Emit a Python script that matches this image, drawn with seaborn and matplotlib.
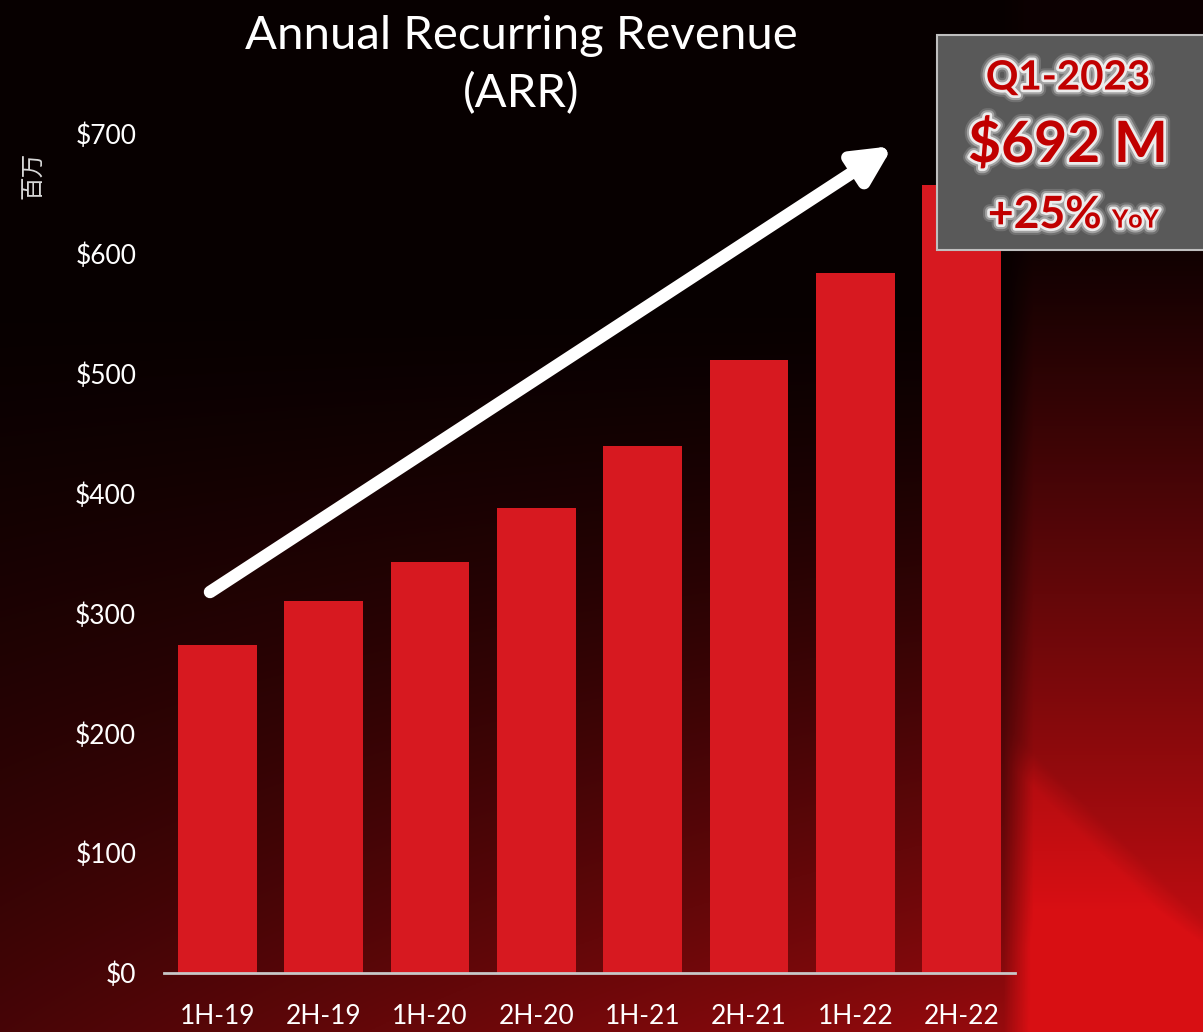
import matplotlib.pyplot as plt
import matplotlib.patheffects as pe
from matplotlib.patches import FancyArrowPatch, Rectangle
import numpy as np
import pandas as pd
import seaborn as sns

periods = ['1H-19', '2H-19', '1H-20', '2H-20', '1H-21', '2H-21', '1H-22', '2H-22']
arr = [274, 310, 343, 388, 440, 511, 584, 657]
y_ticks = [0, 100, 200, 300, 400, 500, 600, 700]
y_labels = ['$0', '$100', '$200', '$300', '$400', '$500', '$600', '$700']

df = pd.DataFrame({'period': periods, 'arr': arr})

sns.set_style('dark')
plt.rcParams['font.family'] = ['Lato', 'Noto Sans CJK SC', 'DejaVu Sans']

fig = plt.figure(figsize=(12.03, 10.32), dpi=100)

# background: black on top fading to dark red, red strip on the right
bg = fig.add_axes([0, 0, 1, 1], zorder=-10)
h, w = 400, 480
yy, xx = np.mgrid[0:1:h*1j, 0:1:w*1j]
base = 0.03 + 0.62 * np.clip((yy - 0.3) / 0.7, 0, 1) ** 1.3 * (0.4 + 0.6 * xx)
strip = 0.05 + 0.72 * np.clip((yy - 0.22) / 0.7, 0, 1) ** 1.1
diag = np.clip((yy - 0.70 - (xx - 0.833) * 1.15) * 30, 0, 1) * 0.12
shadow = np.clip((xx - 0.835) / 0.025, 0, 1)
r = np.where(xx > 0.835, base * (1 - shadow) + (strip + diag) * shadow, base)
r = np.clip(r, 0, 0.85)
img = np.dstack([r, r * 0.07, r * 0.09])
bg.imshow(img, extent=[0, 1, 0, 1], aspect='auto', origin='upper')
bg.axis('off')

ax = fig.add_axes([0.1363, 0.0572, 0.7074, 0.813])
ax.set_facecolor('none')
sns.barplot(data=df, x='period', y='arr', color='#D71920', saturation=1,
            width=0.74, linewidth=0, ax=ax)
ax.set_ylim(0, 700)
ax.set_xlim(-0.5, 7.5)
ax.set_yticks(y_ticks)
ax.set_yticklabels(y_labels)
ax.grid(False)
for s in ['top', 'right', 'left']:
    ax.spines[s].set_visible(False)
ax.spines['bottom'].set_color('#c8c8c8')
ax.spines['bottom'].set_linewidth(2)
ax.tick_params(axis='both', colors='white', labelsize=19, length=0)
ax.tick_params(axis='x', pad=22)
ax.tick_params(axis='y', pad=20)
ax.set_xlabel('')
ax.set_ylabel('')

fig.text(0.028, 0.83, '百万', rotation=90, color='#d9d9d9', fontsize=17,
         ha='center', va='center', family=['Noto Sans CJK SC', 'DejaVu Sans'])

fig.text(0.433, 0.937, 'Annual Recurring Revenue\n(ARR)', color='white',
         fontsize=34, ha='center', va='center', linespacing=1.42)

# trend arrow
fig.add_artist(FancyArrowPatch(
    (210 / 1203, 1 - 592 / 1032), (893 / 1203, 1 - 146 / 1032),
    transform=fig.transFigure, arrowstyle='-|>', mutation_scale=55,
    lw=9, color='white', shrinkA=0, shrinkB=0))

# summary box
fig.add_artist(Rectangle((937 / 1203, 1 - 250 / 1032), 270 / 1203, 215 / 1032,
                         transform=fig.transFigure, facecolor='#595959',
                         edgecolor='#bfbfbf', lw=1.5))
glow = [pe.withStroke(linewidth=10, foreground=(1, 1, 1, 0.15)),
        pe.withStroke(linewidth=7, foreground=(1, 1, 1, 0.35)),
        pe.withStroke(linewidth=4, foreground=(1, 1, 1, 0.8))]
cx = 1068 / 1203
fig.text(cx, 1 - 78 / 1032, 'Q1-2023', color='#C00000', fontsize=29,
         weight='bold', ha='center', va='center', path_effects=glow)
fig.text(cx, 1 - 145 / 1032, '$692 M', color='#C00000', fontsize=41,
         weight='bold', ha='center', va='center', path_effects=glow)
fig.text(1102 / 1203, 1 - 215 / 1032, '+25%', color='#C00000', fontsize=32,
         weight='bold', ha='right', va='center', path_effects=glow)
fig.text(1112 / 1203, 1 - 220 / 1032, 'YoY', color='#C00000', fontsize=18,
         weight='bold', ha='left', va='center', path_effects=glow)

plt.savefig('out.png', dpi=100)
